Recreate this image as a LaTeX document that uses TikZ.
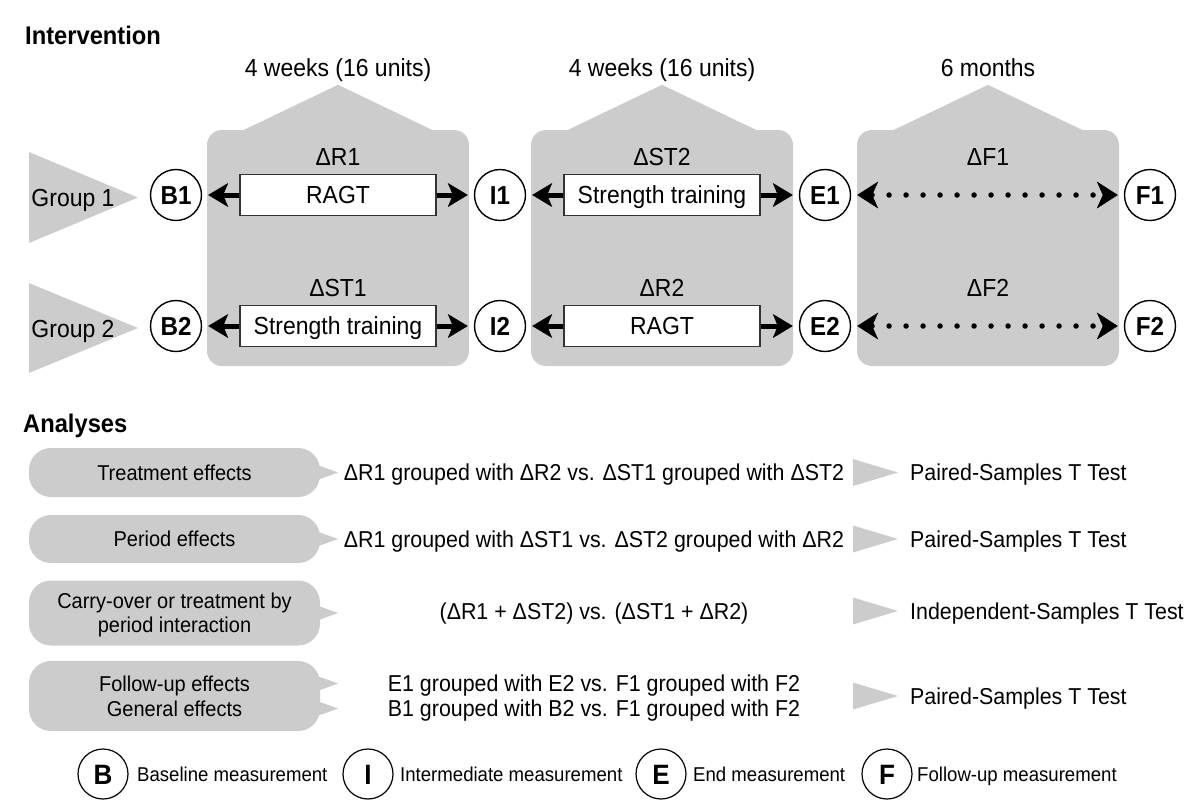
\documentclass[tikz,border=0pt]{standalone}
\usepackage{fontspec}
\setmainfont{Liberation Sans}[FakeStretch=0.93]
\usetikzlibrary{arrows.meta}
\definecolor{bgray}{RGB}{204,204,204}
\newcommand\mytop{\fontsize{24.7}{29}\selectfont}
\newcommand\myana{\fontsize{23}{25}\selectfont}
\newcommand\mybub{\fontsize{21.5}{23.5}\selectfont}
\newcommand\myleg{\fontsize{20}{22}\selectfont}
\begin{document}
\begin{tikzpicture}[x=1pt,y=-1pt,
  grayfill/.style={fill=bgray,draw=none},
  capc/.style={text height=#1,text depth=0pt},
  phase/.style={grayfill,rounded corners=15pt,minimum width=262pt,minimum height=236pt,inner sep=0pt},
  meas/.style={circle,draw=black,line width=1.4pt,fill=white,minimum size=51pt,inner sep=0pt,font=\fontsize{26}{28}\selectfont\bfseries,capc=18.6pt},
  legc/.style={circle,draw=black,line width=1.2pt,fill=white,minimum size=50pt,inner sep=0pt,font=\fontsize{28}{30}\selectfont\bfseries,capc=20pt},
  treat/.style={draw=black!80,line width=1.4pt,fill=white,minimum width=196pt,minimum height=41pt,inner sep=0pt,font=\mytop,capc=17.7pt},
  toplbl/.style={inner sep=0pt,font=\mytop,capc=17.7pt},
  bigarrow/.style={line width=5pt,-{Stealth[length=20pt,width=24pt,inset=5pt,line width=0.5pt]},shorten >=6pt},
  dotarrow/.style={line width=5.5pt,line cap=round,dash pattern=on 0pt off 17pt,
     {Stealth[length=21pt,width=27pt,inset=6pt,line width=0.5pt]}-{Stealth[length=21pt,width=27pt,inset=6pt,line width=0.5pt]},
     shorten <=6pt,shorten >=6pt},
  bubble/.style={grayfill,rounded corners=22pt,minimum width=291pt,inner sep=0pt,align=center,font=\mybub,capc=15.4pt},
  midtxt/.style={inner sep=0pt,align=center,font=\myana,capc=16.5pt},
  restxt/.style={inner sep=0pt,anchor=west,font=\myana,capc=16.5pt},
  title/.style={inner sep=0pt,anchor=west,font=\fontsize{25.5}{28}\selectfont\bfseries,capc=18.3pt},
  legt/.style={inner sep=0pt,anchor=west,font=\myleg,capc=14.3pt}
]
\useasboundingbox (0,0) rectangle (1200,807);

% titles
\node[title] (tint) at (25,35) {Intervention};
\node[title] (tana) at (23,423) {Analyses};

% phase boxes with roofs
\foreach \n/\cx in {box1/338,box2/662,box3/988}{
  \node[phase] (\n) at (\cx,248) {};
  \fill[bgray] ([xshift=-96pt,yshift=-1pt]\n.north) -- ([yshift=45pt]\n.north) -- ([xshift=96pt,yshift=-1pt]\n.north) -- cycle;
}
\node[toplbl] (d1) at (338,68) {4 weeks (16 units)};
\node[toplbl] (d2) at (662,68) {4 weeks (16 units)};
\node[toplbl] (d3) at (988,68) {6 months};

% group triangles
\fill[bgray] (29,152) -- (138,197.5) -- (29,243) -- cycle;
\fill[bgray] (29,283) -- (138,328) -- (29,373) -- cycle;
\node[toplbl] (g1) at (73,198) {Group 1};
\node[toplbl] (g2) at (73,329) {Group 2};

% measurement circles
\node[meas] (B1) at (176,195) {B1};
\node[meas] (I1) at (500,195) {I1};
\node[meas] (E1) at (825,195) {E1};
\node[meas] (F1) at (1150,195) {F1};
\node[meas] (B2) at (176,326) {B2};
\node[meas] (I2) at (500,326) {I2};
\node[meas] (E2) at (825,326) {E2};
\node[meas] (F2) at (1150,326) {F2};

% delta labels
\node[toplbl] (lR1) at (338,157) {ΔR1};
\node[toplbl] (lST1) at (338,288) {ΔST1};
\node[toplbl] (lST2) at (662,157) {ΔST2};
\node[toplbl] (lR2) at (662,288) {ΔR2};
\node[toplbl] (lF1) at (988,157) {ΔF1};
\node[toplbl] (lF2) at (988,288) {ΔF2};

% treatment boxes
\node[treat] (t11) at (338,195) {RAGT};
\node[treat] (t12) at (662,195) {Strength training};
\node[treat] (t21) at (338,326) {Strength training};
\node[treat] (t22) at (662,326) {RAGT};

% arrows
\draw[bigarrow] (t11.west) -- (B1);
\draw[bigarrow] (t11.east) -- (I1);
\draw[bigarrow] (t12.west) -- (I1);
\draw[bigarrow] (t12.east) -- (E1);
\draw[bigarrow] (t21.west) -- (B2);
\draw[bigarrow] (t21.east) -- (I2);
\draw[bigarrow] (t22.west) -- (I2);
\draw[bigarrow] (t22.east) -- (E2);
\draw[dotarrow] (E1) -- (F1);
\draw[dotarrow] (E2) -- (F2);

% analyses bubbles
\node[bubble,minimum height=49pt] (a1) at (174.5,472.5) {Treatment effects};
\node[bubble,minimum height=48pt] (a2) at (174.5,539) {Period effects};
\node[bubble,minimum height=65pt,capc=38.9pt] (a3) at (174.5,613) {Carry-over or treatment by\\period interaction};
\node[bubble,minimum height=70pt,font=\fontsize{21.5}{25}\selectfont,capc=40.4pt] (a4) at (174.5,696) {Follow-up effects\\General effects};
\foreach \b/\dy in {a1/0,a2/0,a3/0,a4/12.5,a4/-12.5}{
  \fill[bgray] ([xshift=-10pt,yshift=\dy pt-10pt]\b.east) -- ([xshift=18pt,yshift=\dy pt]\b.east) -- ([xshift=-10pt,yshift=\dy pt+10pt]\b.east) -- cycle;
}

% middle texts
\node[midtxt] (m1) at (594,472.5) {ΔR1 grouped with ΔR2 vs. ΔST1 grouped with ΔST2};
\node[midtxt] (m2) at (594,539) {ΔR1 grouped with ΔST1 vs. ΔST2 grouped with ΔR2};
\node[midtxt] (m3) at (594,611.5) {(ΔR1 + ΔST2) vs. (ΔST1 + ΔR2)};
\node[midtxt,capc=41.5pt] (m4) at (594,696) {E1 grouped with E2 vs. F1 grouped with F2\\B1 grouped with B2 vs. F1 grouped with F2};

% result triangles and tests
\foreach \yy in {472.5,539,611,696}{
  \fill[bgray] (853,\yy-13.5) -- (898,\yy) -- (853,\yy+13.5) -- cycle;
}
\node[restxt] (r1) at (910,472.5) {Paired-Samples T Test};
\node[restxt] (r2) at (910,539) {Paired-Samples T Test};
\node[restxt] (r3) at (910,611) {Independent-Samples T Test};
\node[restxt] (r4) at (910,696) {Paired-Samples T Test};

% legend
\node[legc] (LB) at (103,774) {B};
\node[legt] (LBt) at (137,774) {Baseline measurement};
\node[legc] (LI) at (368,774) {I};
\node[legt] (LIt) at (400,774) {Intermediate measurement};
\node[legc] (LE) at (661,774) {E};
\node[legt] (LEt) at (693,774) {End measurement};
\node[legc] (LF) at (887,774) {F};
\node[legt] (LFt) at (917,774) {Follow-up measurement};
\end{tikzpicture}
\end{document}
